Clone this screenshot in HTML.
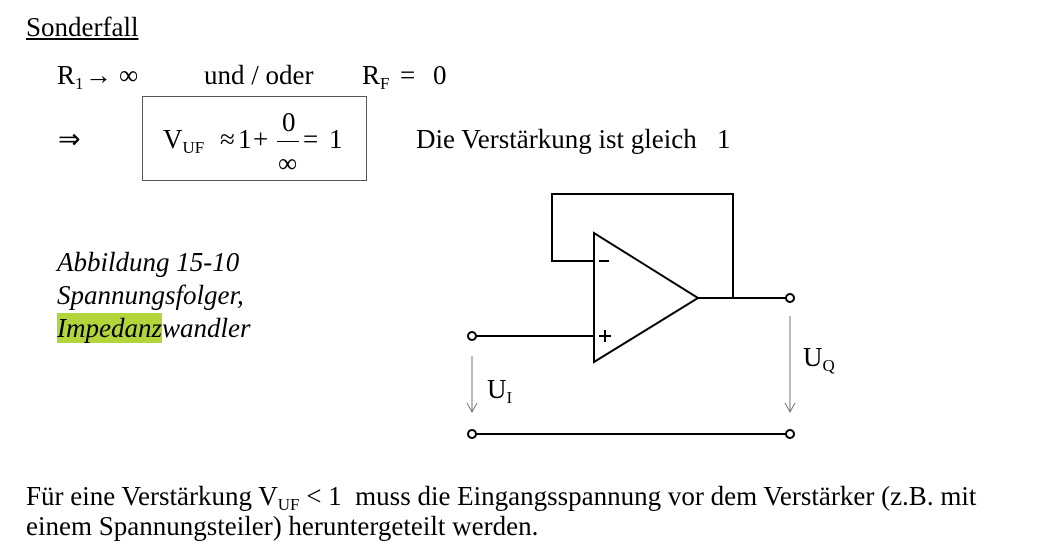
<!DOCTYPE html>
<html><head><meta charset="utf-8"><style>
body{margin:0;width:1061px;height:559px;background:#fff;overflow:hidden;position:relative;font-family:"Liberation Serif",serif;color:#000}
.t{position:absolute;font-size:27px;white-space:nowrap;line-height:1}
sub{font-size:17px;vertical-align:-5px}
.i{font-style:italic}
</style></head><body>
<div class="t" style="left:26px;top:14px;text-decoration:underline">Sonderfall</div>
<div class="t" style="left:57px;top:62px">R<sub>1</sub></div>
<div class="t" style="left:85px;top:62px">→</div>
<div class="t" style="left:119px;top:62px">∞</div>
<div class="t" style="left:204px;top:62px">und / oder</div>
<div class="t" style="left:362px;top:62px">R<sub>F</sub></div>
<div class="t" style="left:400px;top:62px">=</div>
<div class="t" style="left:433px;top:62px">0</div>
<div class="t" style="left:58px;top:126px">⇒</div>
<div style="position:absolute;left:142px;top:96px;width:223px;height:83px;border:1px solid #555"></div>
<div class="t" style="left:163px;top:126px">V<sub>UF</sub></div>
<div class="t" style="left:220px;top:126px">≈</div>
<div class="t" style="left:238px;top:126px">1</div>
<div class="t" style="left:253px;top:126px">+</div>
<div class="t" style="left:282px;top:109px">0</div>
<div style="position:absolute;left:277px;top:141px;width:22px;height:1px;background:#000"></div>
<div class="t" style="left:278px;top:150px">∞</div>
<div class="t" style="left:303px;top:126px">=</div>
<div class="t" style="left:329px;top:126px">1</div>
<div class="t" style="left:416px;top:126px">Die Verstärkung ist gleich &nbsp;&nbsp;1</div>
<div class="t i" style="left:57px;top:249px">Abbildung 15-10</div>
<div class="t i" style="left:57px;top:282px">Spannungsfolger,</div>
<div class="t i" style="left:57px;top:315px"><span style="background:#b3d43a">Impedanz</span>wandler</div>
<svg width="1061" height="559" style="position:absolute;left:0;top:0">
<g fill="none" stroke="#000" stroke-width="2">
<polyline points="594,261 552,261 552,194 733,194 733,298"/>
<polygon points="594,233 594,362 698,298"/>
<line x1="698" y1="298" x2="786" y2="298"/>
<line x1="476" y1="336" x2="594" y2="336"/>
<line x1="476" y1="434" x2="786" y2="434"/>
<circle cx="472" cy="336" r="4" fill="#fff"/>
<circle cx="790" cy="298" r="4" fill="#fff"/>
<circle cx="472" cy="434" r="4" fill="#fff"/>
<circle cx="790" cy="434" r="4" fill="#fff"/>
<line x1="599" y1="261" x2="609" y2="261"/>
<line x1="599" y1="336" x2="611" y2="336"/><line x1="605" y1="330" x2="605" y2="342"/>
</g>
<g fill="none" stroke="#777" stroke-width="1">
<line x1="472" y1="356" x2="472" y2="412"/><polyline points="467,403 472,412 477,403"/>
<line x1="790" y1="316" x2="790" y2="412"/><polyline points="785,403 790,412 795,403"/>
</g>
</svg>
<div class="t" style="left:487px;top:376px">U<sub>I</sub></div>
<div class="t" style="left:803px;top:344px">U<sub>Q</sub></div>
<div class="t" style="left:26px;top:483px">Für eine Verstärkung V<sub>UF</sub> &lt; 1 &nbsp;muss die Eingangsspannung vor dem Verstärker (z.B. mit</div>
<div class="t" style="left:26px;top:513px">einem Spannungsteiler) heruntergeteilt werden.</div>
</body></html>
